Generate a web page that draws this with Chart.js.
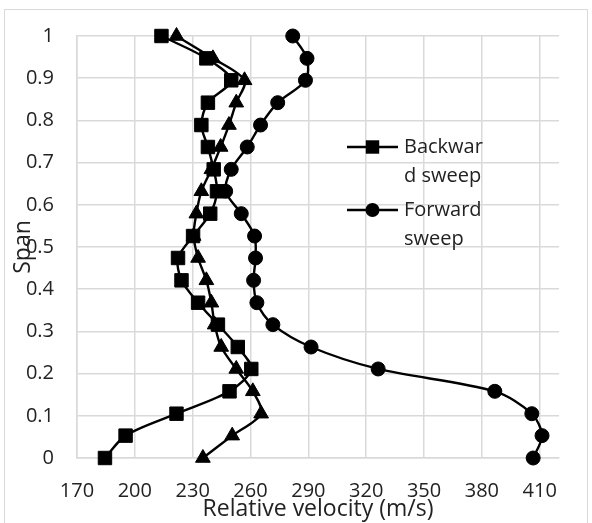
<!DOCTYPE html>
<html><head><meta charset="utf-8">
<script src="https://cdn.jsdelivr.net/npm/chart.js@4.4.1/dist/chart.umd.min.js"></script>
<style>
html,body{margin:0;padding:0;background:#fff;overflow:hidden}
#wrap{position:relative;width:592px;height:523px}
#frame{position:absolute;left:4px;top:9px;width:584px;height:530px;border:1px solid #d9d9d9;box-sizing:border-box;pointer-events:none}
canvas{position:absolute;left:0;top:0}
</style></head><body>
<div id="wrap"><canvas id="c" width="592" height="523"></canvas><div id="frame"></div></div>
<script>
// Span positions (y values), bottom to top
const span = [0, 0.053, 0.105, 0.158, 0.211, 0.263, 0.316, 0.368, 0.421, 0.474, 0.526, 0.579, 0.632, 0.684, 0.737, 0.789, 0.842, 0.895, 0.947, 1];
// Relative velocity (m/s) for each series
const backwardSweep = [184.5, 195.2, 221.6, 249.1, 260.4, 253.4, 243.1, 232.8, 224.2, 222.4, 230.2, 239.1, 242.6, 240.9, 237.9, 234.5, 237.9, 250.0, 237.1, 213.8];
const forwardSweep  = [406.6, 411.2, 405.9, 386.7, 326.2, 291.4, 271.6, 263.3, 261.6, 262.6, 262.1, 255.2, 247.1, 250.0, 258.3, 265.2, 274.1, 288.5, 289.3, 281.9];
const thirdSeries   = [235.3, 250.5, 265.5, 261.2, 252.6, 244.8, 241.4, 239.7, 237.1, 232.8, 230.5, 231.9, 234.5, 239.7, 244.5, 248.8, 252.6, 256.9, 240.5, 221.6];
// Axis ticks
const xTicks = [170, 200, 230, 260, 290, 320, 350, 380, 410];
const yTicks = [0, 0.1, 0.2, 0.3, 0.4, 0.5, 0.6, 0.7, 0.8, 0.9, 1];
const yTickLabels = ['0', '0.1', '0.2', '0.3', '0.4', '0.5', '0.6', '0.7', '0.8', '0.9', '1'];
const legendNames = [['Backwar', 'd sweep'], ['Forward', 'sweep']];
const xTitle = 'Relative velocity (m/s)';
const yTitle = 'Span';

const FONT = "'Open Sans', 'Noto Sans', sans-serif";
const TXT = '#222222';
const GRID = '#d9d9d9';
Chart.defaults.font.family = FONT;
Chart.defaults.color = TXT;

function pts(xs){ return xs.map((v, i) => ({x: v, y: span[i]})); }

function mkDs(label, xs, style, r){
  return {
    label, data: pts(xs), pointStyle: style, pointRadius: r, pointHoverRadius: r,
    borderColor: '#000', backgroundColor: '#000', pointBackgroundColor: '#000', pointBorderColor: '#000',
    pointBorderWidth: 1, borderWidth: 2.4, tension: 0.3, clip: false, fill: false
  };
}

const legendPlugin = {
  id: 'boxLegend',
  afterDraw(chart){
    const {ctx, chartArea: a} = chart;
    const lx = a.left + 270, len = 51, tx = lx + 57;
    const ys = [a.top + 111, a.top + 174];
    ctx.save();
    ys.forEach((y, k) => {
      const ds = chart.data.datasets[k];
      ctx.strokeStyle = '#000'; ctx.lineWidth = 2.4;
      ctx.beginPath(); ctx.moveTo(lx, y); ctx.lineTo(lx + len, y); ctx.stroke();
      ctx.fillStyle = '#000';
      const cx = lx + len / 2, r = ds.pointRadius;
      ctx.beginPath();
      if (ds.pointStyle === 'rect') { const s = r * Math.SQRT1_2; ctx.rect(cx - s, y - s, 2 * s, 2 * s); }
      else { ctx.arc(cx, y, r, 0, Math.PI * 2); }
      ctx.fill();
      ctx.fillStyle = TXT; ctx.font = '20px ' + FONT; ctx.textBaseline = 'middle'; ctx.textAlign = 'left';
      legendNames[k].forEach((t, j) => ctx.fillText(t, tx, y + j * 29));
    });
    ctx.restore();
  }
};

new Chart(document.getElementById('c'), {
  type: 'line',
  data: { datasets: [
    mkDs('Backward sweep', backwardSweep, 'rect', 9.5),
    mkDs('Forward sweep', forwardSweep, 'circle', 7),
    mkDs('', thirdSeries, 'triangle', 8.5)
  ]},
  options: {
    responsive: false, animation: false, devicePixelRatio: 1,
    layout: { padding: { top: 36, right: 33, left: 0, bottom: 0 } },
    plugins: { legend: { display: false }, tooltip: { enabled: false } },
    scales: {
      x: {
        type: 'linear', min: 170, max: 420,
        afterBuildTicks: ax => { ax.ticks = xTicks.map(v => ({value: v})); },
        afterFit: s => { s.height = 65; },
        grid: { color: GRID, lineWidth: 1.5, drawTicks: false },
        border: { display: true, color: GRID, width: 1.5 },
        ticks: { font: { size: 20 }, color: TXT, padding: 21, maxRotation: 0, autoSkip: false },
        title: { display: true, text: xTitle, font: { size: 23 }, color: TXT, padding: { top: 0, bottom: 0 } }
      },
      y: {
        type: 'linear', min: 0, max: 1,
        afterBuildTicks: ax => { ax.ticks = yTicks.map(v => ({value: v})); },
        afterFit: s => { s.width = 77; },
        grid: { color: GRID, lineWidth: 1.5, drawTicks: false },
        border: { display: true, color: GRID, width: 1.5 },
        ticks: {
          font: { size: 20 }, color: TXT, padding: 23, autoSkip: false,
          callback: (v) => { const i = yTicks.findIndex(t => Math.abs(t - v) < 1e-9); return i >= 0 ? yTickLabels[i] : ''; }
        },
        title: { display: true, text: yTitle, font: { size: 23 }, color: TXT, padding: { top: 10, bottom: 0 } }
      }
    }
  },
  plugins: [legendPlugin]
});
</script>
</body></html>
